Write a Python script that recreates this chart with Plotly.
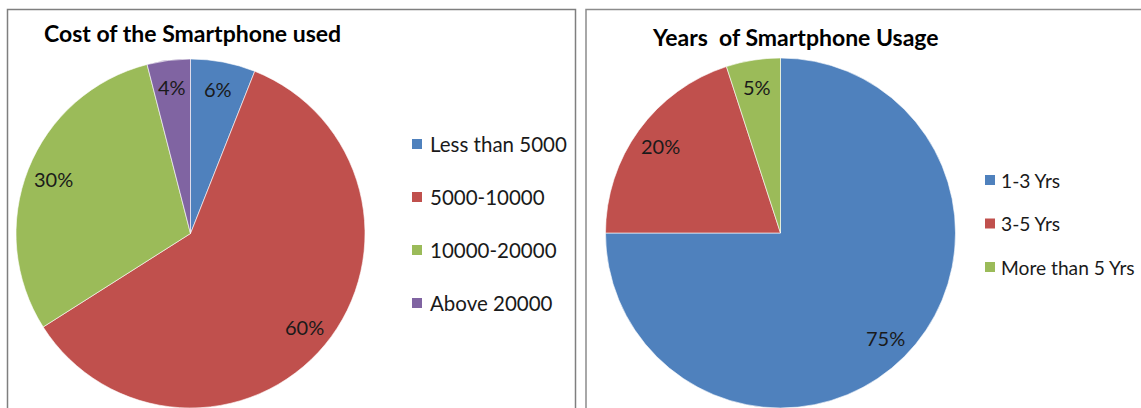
import math
import plotly.graph_objects as go

W, H = 1141, 408

# ---- data ----
cost_labels = ["Less than 5000", "5000-10000", "10000-20000", "Above 20000"]
cost_values = [6, 60, 30, 4]
years_labels = ["1-3 Yrs", "3-5 Yrs", "More than 5 Yrs"]
years_values = [75, 20, 5]

colors_cost = ["#4F81BD", "#C0504D", "#9BBB59", "#8064A2"]
colors_years = ["#4F81BD", "#C0504D", "#9BBB59"]

FONT = "Lato"

def px_x(x):
    return x / W

def px_y(y):
    return 1 - y / H

fig = go.Figure()

# pie geometry (pixels)
pies = [
    dict(labels=cost_labels, values=cost_values, colors=colors_cost, cx=190.5, cy=233.5, r=174.5),
    dict(labels=years_labels, values=years_values, colors=colors_years, cx=780.5, cy=233, r=175),
]

annotations = []
for p in pies:
    fig.add_trace(go.Pie(
        labels=p["labels"], values=p["values"], sort=False, direction="clockwise",
        rotation=0, textinfo="none", hoverinfo="label+percent", showlegend=False,
        marker=dict(colors=p["colors"], line=dict(color="white", width=0.6)),
        domain=dict(x=[px_x(p["cx"] - p["r"]), px_x(p["cx"] + p["r"])],
                    y=[max(0, px_y(p["cy"] + p["r"])), px_y(p["cy"] - p["r"])]),
    ))
    total = sum(p["values"])
    cum = 0
    for v in p["values"]:
        mid = (cum + v / 2) / total * 2 * math.pi
        cum += v
        rr = 0.845 * p["r"]
        x = p["cx"] + rr * math.sin(mid)
        y = p["cy"] - rr * math.cos(mid)
        annotations.append(dict(
            x=px_x(x), y=px_y(y), xref="paper", yref="paper", showarrow=False,
            text=f"{round(v / total * 100)}%", xanchor="center", yanchor="middle",
            font=dict(family=FONT, size=20, color="#1a1a1a")))

# titles
annotations.append(dict(x=px_x(192.5), y=px_y(33), xref="paper", yref="paper", showarrow=False,
                        text="<b>Cost of the Smartphone used</b>", xanchor="center", yanchor="middle",
                        font=dict(family=FONT, size=23, color="black")))
annotations.append(dict(x=px_x(795), y=px_y(37), xref="paper", yref="paper", showarrow=False,
                        text="<b>Years&nbsp; of Smartphone Usage</b>", xanchor="center", yanchor="middle",
                        font=dict(family=FONT, size=23, color="black")))

shapes = []
# panel borders
shapes.append(dict(type="rect", xref="paper", yref="paper", x0=px_x(7.5), x1=px_x(575.5),
                   y0=px_y(420), y1=px_y(9.5), line=dict(color="#7f7f7f", width=1.5)))
shapes.append(dict(type="rect", xref="paper", yref="paper", x0=px_x(586), x1=px_x(1160),
                   y0=px_y(420), y1=px_y(9.5), line=dict(color="#8c8c8c", width=1.5)))

# manual legends
legends = [
    dict(labels=cost_labels, colors=colors_cost, sx=412, tx=428, y0=144, dy=53, fs=20.5),
    dict(labels=years_labels, colors=colors_years, sx=985, tx=999, y0=180, dy=43.5, fs=19.2),
]
for lg in legends:
    for i, (lab, col) in enumerate(zip(lg["labels"], lg["colors"])):
        yc = lg["y0"] + i * lg["dy"]
        shapes.append(dict(type="rect", xref="paper", yref="paper",
                           x0=px_x(lg["sx"]), x1=px_x(lg["sx"] + 10),
                           y0=px_y(yc + 5), y1=px_y(yc - 5),
                           fillcolor=col, line=dict(width=0)))
        annotations.append(dict(x=px_x(lg["tx"]), y=px_y(yc), xref="paper", yref="paper",
                                showarrow=False, text=lab, xanchor="left", yanchor="middle",
                                font=dict(family=FONT, size=lg["fs"], color="#1a1a1a")))

fig.update_layout(
    width=W, height=H, margin=dict(l=0, r=0, t=0, b=0),
    paper_bgcolor="white", plot_bgcolor="white",
    annotations=annotations, shapes=shapes, showlegend=False,
)

fig.write_html("out.html")
